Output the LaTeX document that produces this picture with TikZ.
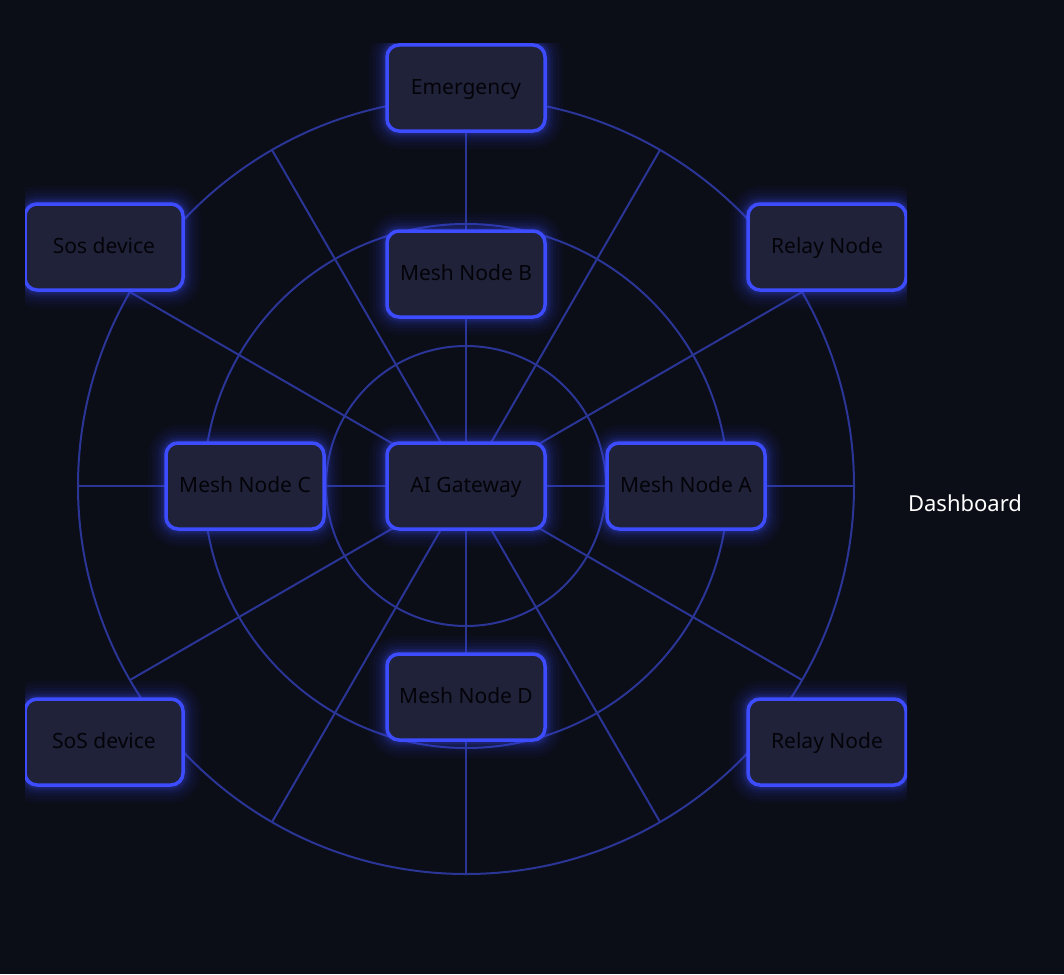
\documentclass[tikz,border=0pt]{standalone}
\usepackage{fontspec}
\setmainfont{Noto Sans}
\definecolor{bgc}{HTML}{0B0D17}
\definecolor{boxfill}{HTML}{20223A}
\definecolor{boxline}{HTML}{3D4CFF}
\definecolor{gridc}{HTML}{2A3596}
\definecolor{txtc}{HTML}{030308}
\tikzset{
  gridline/.style={draw=gridc, line width=2pt},
  glowbox/.style={
    preaction={draw=boxline, line width=36pt, draw opacity=0.035},
    preaction={draw=boxline, line width=29pt, draw opacity=0.045},
    preaction={draw=boxline, line width=22pt, draw opacity=0.06},
    preaction={draw=boxline, line width=16pt, draw opacity=0.08},
    preaction={draw=boxline, line width=11pt, draw opacity=0.10},
    preaction={draw=boxline, line width=7pt, draw opacity=0.14}},
  netbox/.style={glowbox, rectangle, rounded corners=12pt, fill=boxfill,
    draw=boxline, line width=3.5pt, minimum width=158pt, minimum height=86pt,
    inner sep=0pt, text=txtc, font=\fontsize{21}{25}\selectfont,
    text height=16pt, text depth=4pt},
  label/.style={text=white, font=\fontsize{22}{26}\selectfont, inner sep=0pt}
}
\begin{document}
\begin{tikzpicture}[x=1pt, y=-1pt]
\useasboundingbox (0,0) rectangle (1064,974);
\fill[bgc] (0,0) rectangle (1064,974);
\coordinate (O) at (466,486);
\begin{scope}
\clip (25,44) rectangle (907,974);
\draw[gridline] (O) circle[radius=140];
\draw[gridline] (O) circle[radius=262];
\draw[gridline] (O) circle[radius=388];
\foreach \a in {0,30,...,330} \draw[gridline] (O) -- ++(\a:388);
\node[netbox] (em) at (466,88) {Emergency};
\node[netbox] (mb) at (466,274) {Mesh Node B};
\node[netbox] (gw) at (466,486) {AI Gateway};
\node[netbox] (mc) at (245,486) {Mesh Node C};
\node[netbox] (ma) at (686,486) {Mesh Node A};
\node[netbox] (md) at (466,697) {Mesh Node D};
\node[netbox] (sosa) at (104,247) {Sos device};
\node[netbox] (rna) at (827,247) {Relay Node};
\node[netbox] (sosb) at (104,742) {SoS device};
\node[netbox] (rnb) at (827,742) {Relay Node};
\end{scope}
\node[label] (dash) at (965,503) {Dashboard};
\end{tikzpicture}
\end{document}
